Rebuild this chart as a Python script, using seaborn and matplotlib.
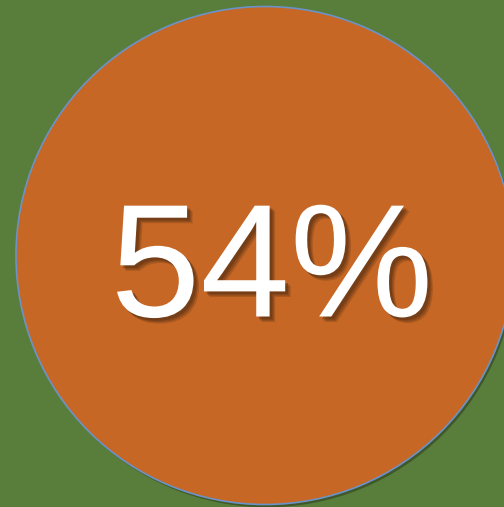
import matplotlib
matplotlib.use("Agg")
import matplotlib.pyplot as plt
import matplotlib.patheffects as pe
import seaborn as sns

# Data
labels = ["Share"]
values = [54]
label_text = "54%"

bg_color = "#597D3B"
fill_color = "#C66725"

sns.set_theme(style="white")
plt.rcParams["font.family"] = ["Liberation Sans", "DejaVu Sans"]

fig = plt.figure(figsize=(5.04, 5.07), dpi=100, facecolor=bg_color)
ax = fig.add_axes([0, 0, 1, 1])
ax.set_facecolor(bg_color)

# a single full disc representing the value (drawn as one-wedge pie)
wedges, _ = ax.pie([values[0]], labels=None, colors=[fill_color],
                   center=(265, 251.5), radius=249,
                   wedgeprops=dict(edgecolor="#6B93C8", linewidth=1.2))
for w in wedges:
    w.set_path_effects([pe.SimplePatchShadow(offset=(1.5, -2), shadow_rgbFace="#2E3F1E", alpha=0.6),
                        pe.Normal()])

ax.set_xlim(0, 504)
ax.set_ylim(0, 507)
ax.set_aspect("auto")
ax.axis("off")

shadow = [
    pe.SimplePatchShadow(offset=(4, -4), shadow_rgbFace="#5A3012", alpha=0.25),
    pe.SimplePatchShadow(offset=(3, -3), shadow_rgbFace="#5A3012", alpha=0.35),
    pe.SimplePatchShadow(offset=(2, -2), shadow_rgbFace="#5A3012", alpha=0.45),
    pe.Normal(),
]
ax.text(272, 507 - 275, label_text, color="white", fontsize=116,
        ha="center", va="center", path_effects=shadow)

fig.savefig("out.png", dpi=100, facecolor=bg_color)
